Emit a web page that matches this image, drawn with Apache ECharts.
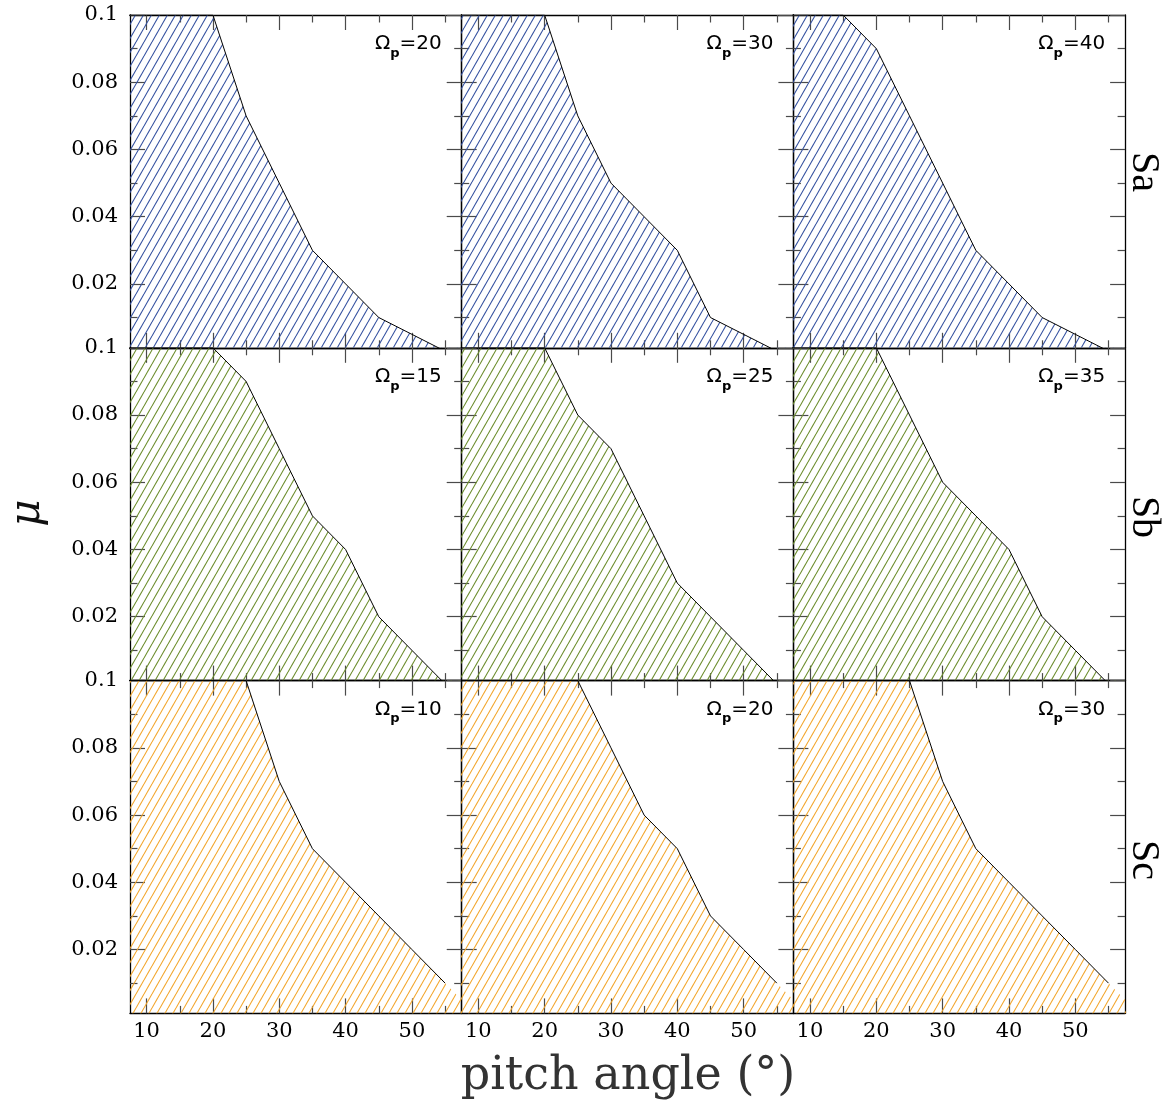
<!DOCTYPE html>
<html><head><meta charset="utf-8">
<script src="https://cdn.jsdelivr.net/npm/echarts@6/dist/echarts.min.js"></script>
<style>html,body{margin:0;padding:0;background:#fff}#c{width:1164px;height:1106px}</style>
</head><body><div id="c"></div>
<script>
// ---- data ----
const pitchAngles = [5, 10, 15, 20, 25, 30, 35, 40, 45, 50, 55, 60];
const muSa20 = [0.1, 0.1, 0.1, 0.1, 0.07, 0.05, 0.03, 0.02, 0.01, 0.005, 0, 0];
const muSa30 = [0.1, 0.1, 0.1, 0.1, 0.07, 0.05, 0.04, 0.03, 0.01, 0.005, 0, 0];
const muSa40 = [0.1, 0.1, 0.1, 0.09, 0.07, 0.05, 0.03, 0.02, 0.01, 0.005, 0, 0];
const muSb15 = [0.1, 0.1, 0.1, 0.1, 0.09, 0.07, 0.05, 0.04, 0.02, 0.01, 0, 0];
const muSb25 = [0.1, 0.1, 0.1, 0.1, 0.08, 0.07, 0.05, 0.03, 0.02, 0.01, 0, 0];
const muSb35 = [0.1, 0.1, 0.1, 0.1, 0.08, 0.06, 0.05, 0.04, 0.02, 0.01, 0, 0];
const muSc10 = [0.1, 0.1, 0.1, 0.1, 0.1, 0.07, 0.05, 0.04, 0.03, 0.02, 0.01, 0];
const muSc20 = [0.1, 0.1, 0.1, 0.1, 0.1, 0.08, 0.06, 0.05, 0.03, 0.02, 0.01, 0];
const muSc30 = [0.1, 0.1, 0.1, 0.1, 0.1, 0.07, 0.05, 0.04, 0.03, 0.02, 0.01, 0];
const panelSeries = [[muSa20, muSa30, muSa40], [muSb15, muSb25, muSb35], [muSc10, muSc20, muSc30]];
const omegaValues = [[20, 30, 40], [15, 25, 35], [10, 20, 30]];
const rowNames = ['Sa', 'Sb', 'Sc'];
const xMajorTicks = [10, 20, 30, 40, 50];
const xMinorTicks = [15, 25, 35, 45, 55];
const yMajorTicks = [0.02, 0.04, 0.06, 0.08, 0.1];
const yMinorTicks = [0.01, 0.03, 0.05, 0.07, 0.09];
const hatchColors = ['#33509f', '#6b8c2b', '#f3a62b'];
const lastDrawnIndex = 10; // line drawn up to pitch angle 55

// ---- layout ----
const X0 = 130, COLW = 331.7, Y0 = 15, ROWH = 332.8;
const XMIN = 7.5, XMAX = 57.5, YMIN = 0.001, YMAX = 0.1;

function hatch(color) {
  const W = 8, H = 14;
  const cv = document.createElement('canvas');
  cv.width = W; cv.height = H;
  const g = cv.getContext('2d');
  g.strokeStyle = color; g.lineWidth = 1.1;
  for (const dx of [-W, 0, W]) {
    g.beginPath(); g.moveTo(dx, H); g.lineTo(dx + W, 0); g.stroke();
  }
  return cv;
}

const chart = echarts.init(document.getElementById('c'), null, {renderer: 'canvas'});
const grids = [], xAxes = [], yAxes = [], series = [], graphics = [];
const tickColor = '#4a4a4a';
const lblFont = {fontFamily: 'DejaVu Serif', fontSize: 21, color: '#000'};

const measure = document.createElement('canvas').getContext('2d');
function textW(txt, font) { measure.font = font; return measure.measureText(txt).width; }

for (let r = 0; r < 3; r++) {
  const pat = hatch(hatchColors[r]);
  for (let c = 0; c < 3; c++) {
    const gi = r * 3 + c;
    const left = X0 + c * COLW, top = Y0 + r * ROWH;
    grids.push({left: left, top: top, width: COLW, height: ROWH, containLabel: false});
    const xBase = {type: 'value', gridIndex: gi, min: XMIN, max: XMAX, splitLine: {show: false}};
    const yBase = {type: 'value', gridIndex: gi, min: YMIN, max: YMAX, splitLine: {show: false}};
    ['bottom', 'top'].forEach(pos => {
      xAxes.push(Object.assign({}, xBase, {
        position: pos,
        axisLine: {show: true, onZero: false, lineStyle: {color: '#000', width: 1.3}},
        axisTick: {show: true, inside: true, length: 15, customValues: xMajorTicks, lineStyle: {color: tickColor, width: 1.2}},
        axisLabel: (pos === 'bottom' && r === 2) ?
          Object.assign({show: true, margin: 8, customValues: xMajorTicks}, lblFont) : {show: false}
      }));
      xAxes.push(Object.assign({}, xBase, {
        position: pos,
        axisLine: {show: false, onZero: false},
        axisTick: {show: true, inside: true, length: 7.5, customValues: xMinorTicks, lineStyle: {color: tickColor, width: 1.2}},
        axisLabel: {show: false}
      }));
    });
    ['left', 'right'].forEach(pos => {
      yAxes.push(Object.assign({}, yBase, {
        position: pos,
        axisLine: {show: true, onZero: false, lineStyle: {color: '#000', width: 1.3}},
        axisTick: {show: true, inside: true, length: 15, customValues: yMajorTicks, lineStyle: {color: tickColor, width: 1.2}},
        axisLabel: (pos === 'left' && c === 0) ?
          Object.assign({show: true, margin: 12, customValues: yMajorTicks,
            formatter: v => v.toFixed(2).replace(/0$/, '')}, lblFont) : {show: false}
      }));
      yAxes.push(Object.assign({}, yBase, {
        position: pos,
        axisLine: {show: false, onZero: false},
        axisTick: {show: true, inside: true, length: 7.5, customValues: yMinorTicks, lineStyle: {color: tickColor, width: 1.2}},
        axisLabel: {show: false}
      }));
    });
    const xi = gi * 4, yi = gi * 4;
    const vals = panelSeries[r][c];
    const pts = pitchAngles.map((p, k) => [p, vals[k]]);
    series.push({
      type: 'line', xAxisIndex: xi, yAxisIndex: yi, data: pts, showSymbol: false, symbol: 'none',
      lineStyle: {width: 0, opacity: 0}, clip: true, silent: true, z: 1,
      areaStyle: {origin: 'start', opacity: 1, color: {image: pat, repeat: 'repeat'}}
    });
    series.push({
      type: 'line', xAxisIndex: xi, yAxisIndex: yi, data: pts.slice(0, lastDrawnIndex + 1),
      showSymbol: false, symbol: 'none', clip: true, silent: true, z: 3,
      lineStyle: {color: '#000', width: 1}
    });
    // Omega_p annotation, right aligned
    const fBig = '20px "DejaVu Sans"', fSub = 'bold 13px "DejaVu Sans"';
    const t3 = '=' + omegaValues[r][c];
    const w1 = textW('Ω', fBig), w2 = textW('p', fSub), w3 = textW(t3, fBig);
    const xr = left + COLW - 20, yc = top + 30;
    const x1 = xr - w3 - w2 - w1;
    graphics.push({type: 'text', left: x1, top: yc - 11, z: 10,
      style: {text: 'Ω', font: fBig, fill: '#000'}});
    graphics.push({type: 'text', left: x1 + w1, top: yc + 2, z: 10,
      style: {text: 'p', font: fSub, fill: '#000'}});
    graphics.push({type: 'text', left: x1 + w1 + w2, top: yc - 11, z: 10,
      style: {text: t3, font: fBig, fill: '#000'}});
  }
}

// side labels
const rowCenters = [172, 517, 860];
rowNames.forEach((n, r) => {
  graphics.push({type: 'text', x: 1143, y: rowCenters[r], rotation: -Math.PI / 2, z: 10,
    style: {text: n, font: '40px "Liberation Serif"', fill: '#000', align: 'center', verticalAlign: 'middle'}});
});
graphics.push({type: 'text', x: 28, y: 513, rotation: Math.PI / 2, z: 10,
  style: {text: 'μ', font: 'italic 42px "DejaVu Serif"', fill: '#111', align: 'center', verticalAlign: 'middle'}});
graphics.push({type: 'text', x: 628, y: 1077, z: 10,
  style: {text: 'pitch angle (°)', font: '46px "DejaVu Serif"', fill: '#333', align: 'center', verticalAlign: 'middle'}});

chart.setOption({
  animation: false,
  backgroundColor: '#fff',
  grid: grids, xAxis: xAxes, yAxis: yAxes, series: series, graphic: graphics
});
</script></body></html>
